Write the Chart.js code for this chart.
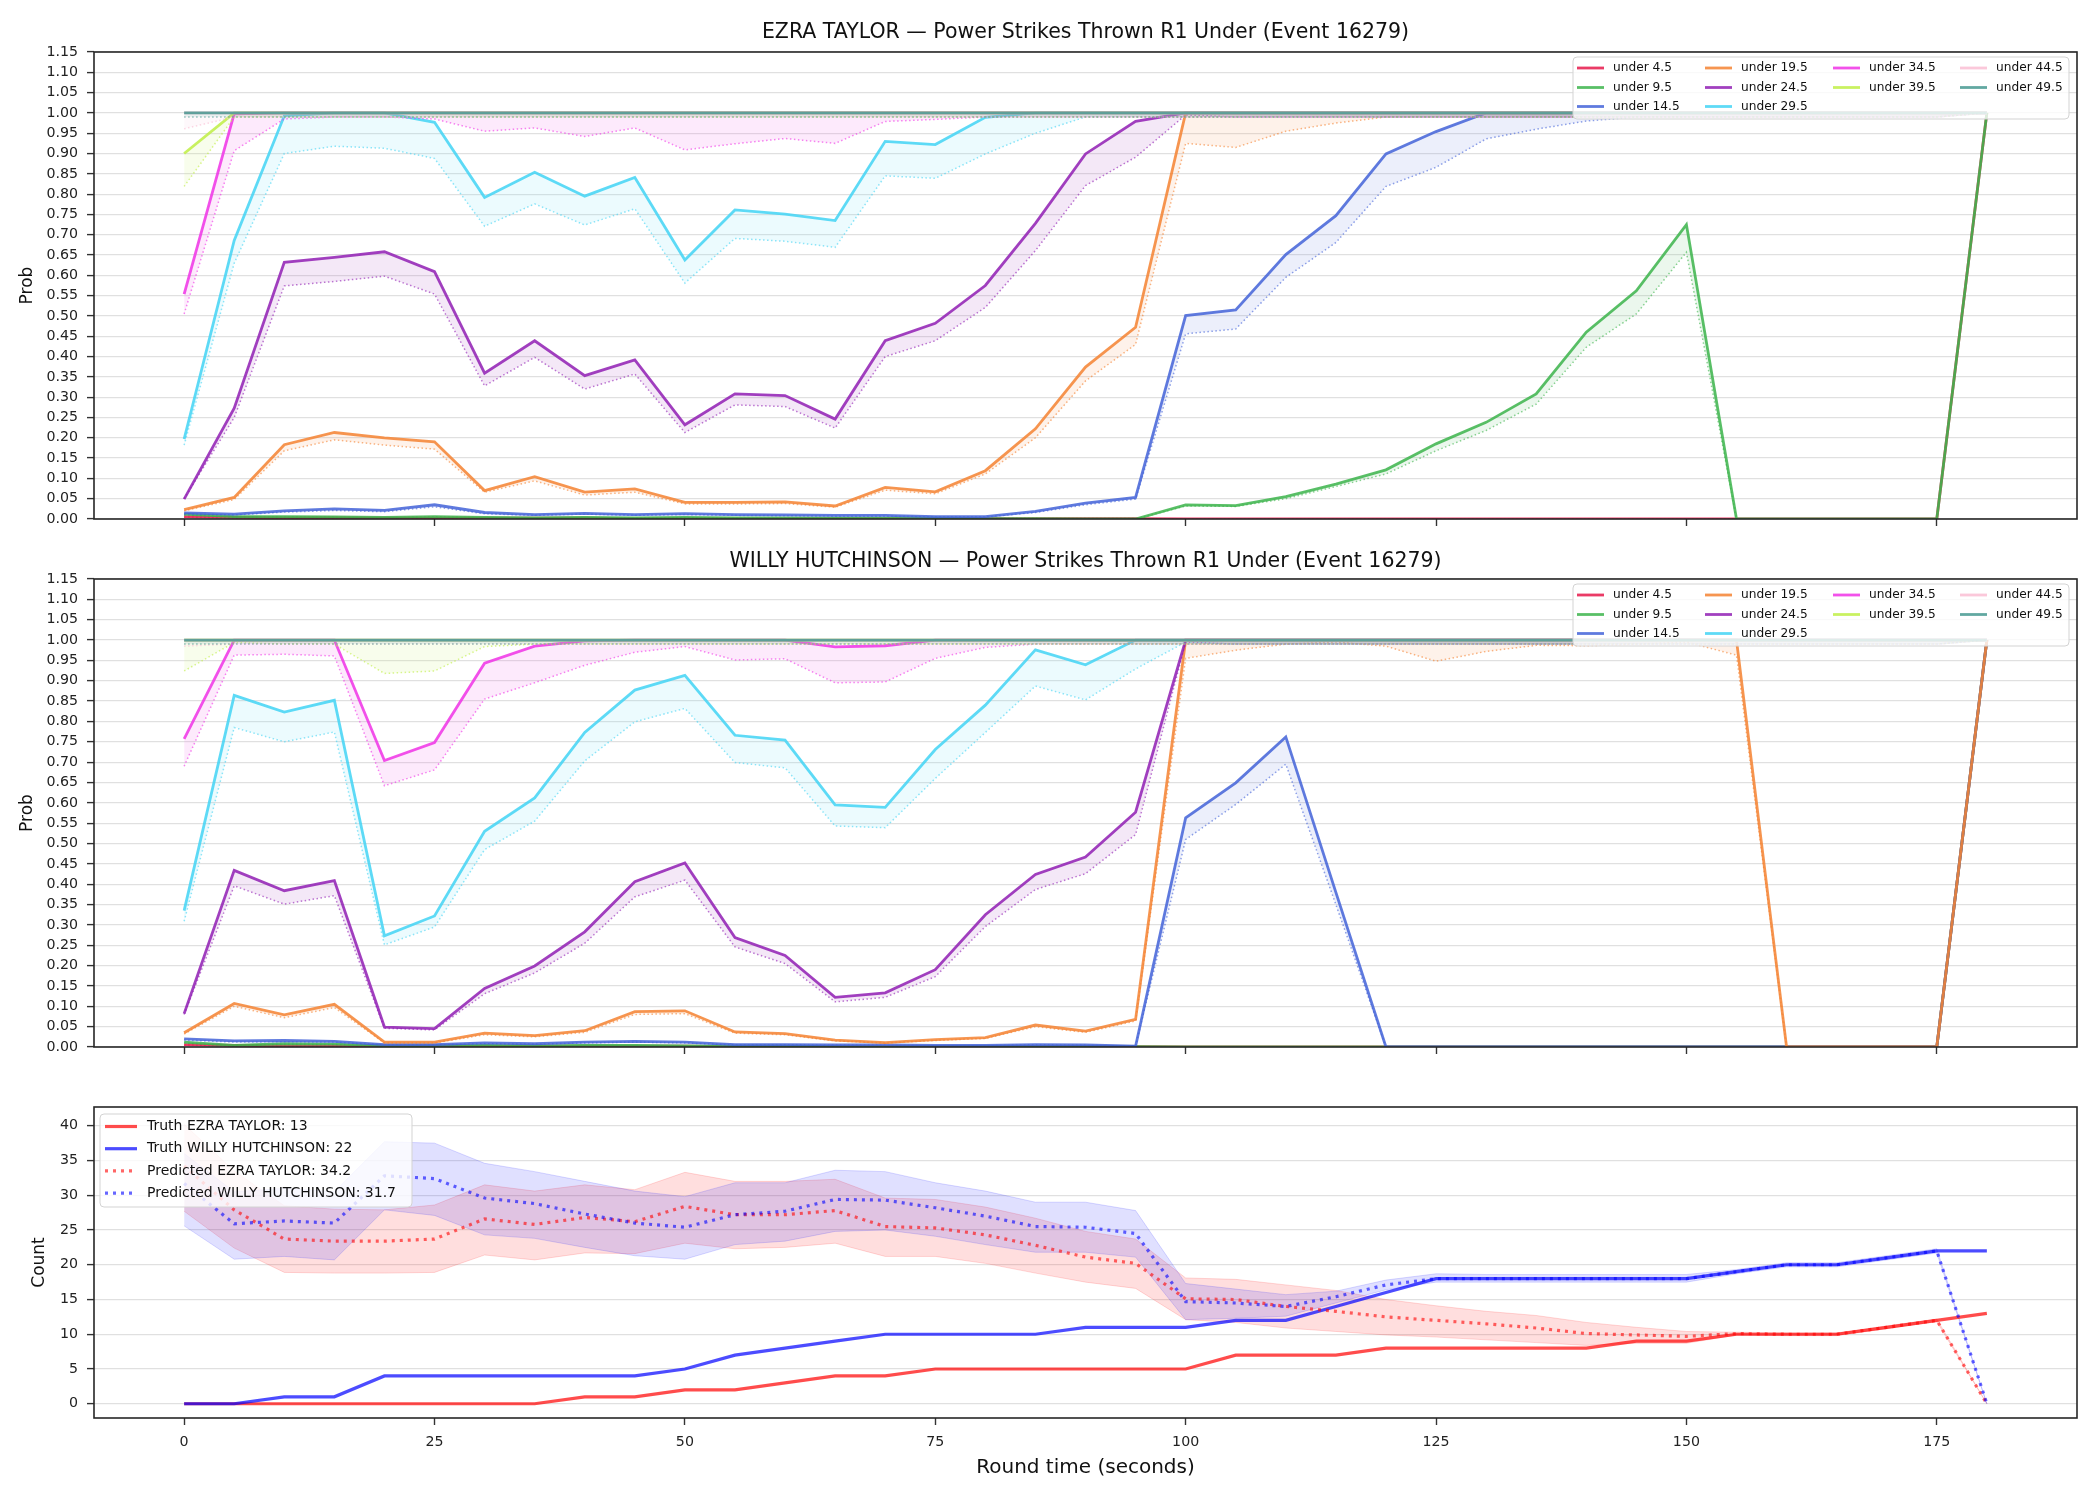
<!DOCTYPE html>
<html>
<head>
<meta charset="utf-8">
<script src="https://cdn.jsdelivr.net/npm/chart.js@4.4.0/dist/chart.umd.min.js"></script>
<style>
html, body { margin: 0; padding: 0; background: #fff; }
#wrap { position: relative; width: 2100px; height: 1500px; }
canvas { position: absolute; left: 0; top: 0; }
</style>
</head>
<body>
<div id="wrap">
  <canvas id="ezra" width="2100" height="1500"></canvas>
  <canvas id="willy" width="2100" height="1500"></canvas>
  <canvas id="count" width="2100" height="1500"></canvas>
</div>
<script>
// ---- data ----
const times = [0,5,10,15,20,25,30,35,40,45,50,55,60,65,70,75,80,85,90,95,100,105,110,115,120,125,130,135,140,145,150,155,160,165,170,175,180];
const xTicks = [0,25,50,75,100,125,150,175];
const probTicks = [0,0.05,0.1,0.15,0.2,0.25,0.3,0.35,0.4,0.45,0.5,0.55,0.6,0.65,0.7,0.75,0.8,0.85,0.9,0.95,1,1.05,1.1,1.15];
const countTicks = [0,5,10,15,20,25,30,35,40];

const thresholdLabels = ['under 4.5','under 9.5','under 14.5','under 19.5','under 24.5','under 29.5','under 34.5','under 39.5','under 44.5','under 49.5'];
const thresholdColors = ['#e6194B','#3cb44b','#4363d8','#f58231','#911eb4','#42d4f4','#f032e6','#bfef45','#fabed4','#469990'];

// EZRA TAYLOR: solid line and dotted line per threshold
const ez4  = [0.006,0.004,0.003,0.003,0.002,0.002,0.002,0.002,0.002,0.001,0.001,0.001,0.001,0.001,0.001,0.001,0.001,0.001,0.001,0.001,0,0,0,0,0,0,0,0,0,0,0,0,0,0,0,0,1];
const ez4d = [0.005,0.003,0.002,0.002,0.002,0.001,0.001,0.001,0.001,0.001,0.001,0.001,0.001,0.001,0.001,0.001,0.001,0.001,0.001,0.001,0,0,0,0,0,0,0,0,0,0,0,0,0,0,0,0,1];
const ez9  = [0.012,0.006,0.006,0.005,0.004,0.006,0.004,0.003,0.004,0.003,0.004,0.003,0.003,0.002,0.002,0.002,0.001,0.001,0,0,0.035,0.033,0.055,0.086,0.121,0.185,0.238,0.308,0.46,0.562,0.725,0,0,0,0,0,1];
const ez9d = [0.01,0.005,0.005,0.004,0.003,0.005,0.003,0.002,0.003,0.002,0.003,0.002,0.002,0.002,0.001,0.001,0.001,0.001,0,0,0.032,0.031,0.05,0.08,0.111,0.168,0.218,0.283,0.423,0.505,0.657,0,0,0,0,0,1];
const ez14  = [0.015,0.012,0.02,0.025,0.021,0.035,0.016,0.011,0.014,0.011,0.013,0.011,0.01,0.009,0.009,0.006,0.006,0.019,0.039,0.053,0.501,0.515,0.651,0.747,0.899,0.954,1,1,1,1,1,1,1,1,1,1,1];
const ez14d = [0.012,0.01,0.017,0.021,0.018,0.03,0.013,0.009,0.012,0.009,0.011,0.009,0.008,0.007,0.007,0.005,0.005,0.016,0.035,0.049,0.456,0.468,0.595,0.681,0.819,0.866,0.936,0.96,0.98,0.99,0.99,0.99,0.99,0.99,0.99,0.99,1];
const ez19  = [0.023,0.053,0.183,0.213,0.2,0.19,0.07,0.104,0.066,0.074,0.041,0.041,0.042,0.032,0.078,0.067,0.119,0.222,0.374,0.472,1,1,1,1,1,1,1,1,1,1,1,1,1,1,1,1,1];
const ez19d = [0.02,0.048,0.168,0.195,0.182,0.172,0.066,0.094,0.059,0.066,0.037,0.037,0.038,0.029,0.071,0.062,0.111,0.2,0.34,0.43,0.925,0.915,0.955,0.975,0.99,0.99,0.99,0.99,0.99,0.99,0.99,0.99,0.99,0.99,0.99,0.99,1];
const ez24  = [0.049,0.273,0.632,0.644,0.658,0.609,0.359,0.439,0.353,0.392,0.232,0.308,0.304,0.246,0.439,0.482,0.575,0.728,0.899,0.979,1,1,1,1,1,1,1,1,1,1,1,1,1,1,1,1,1];
const ez24d = [0.05,0.25,0.574,0.585,0.598,0.554,0.328,0.398,0.32,0.357,0.213,0.281,0.277,0.224,0.4,0.439,0.521,0.661,0.821,0.891,0.995,0.99,0.99,0.99,0.99,0.99,0.99,0.99,0.99,0.99,0.99,0.99,0.99,0.99,0.99,0.99,1];
const ez29  = [0.197,0.686,0.993,1,1,0.977,0.792,0.854,0.795,0.841,0.638,0.761,0.751,0.735,0.93,0.922,0.989,1,1,1,1,1,1,1,1,1,1,1,1,1,1,1,1,1,1,1,1];
const ez29d = [0.182,0.63,0.9,0.918,0.913,0.888,0.721,0.776,0.724,0.764,0.581,0.691,0.684,0.669,0.845,0.839,0.899,0.95,0.99,0.99,0.99,0.99,0.99,0.99,0.99,0.99,0.99,0.99,0.99,0.99,0.99,0.99,0.99,0.99,0.99,0.99,1];
const ez34  = [0.554,0.998,1,1,1,1,1,1,1,1,1,1,1,1,1,1,1,1,1,1,1,1,1,1,1,1,1,1,1,1,1,1,1,1,1,1,1];
const ez34d = [0.505,0.907,0.985,0.99,0.99,0.985,0.955,0.963,0.942,0.963,0.909,0.924,0.937,0.925,0.979,0.984,0.99,0.99,0.99,0.99,0.99,0.99,0.99,0.99,0.99,0.99,0.99,0.99,0.99,0.99,0.99,0.99,0.99,0.99,0.99,0.99,1];
const ez39  = [0.9,1,1,1,1,1,1,1,1,1,1,1,1,1,1,1,1,1,1,1,1,1,1,1,1,1,1,1,1,1,1,1,1,1,1,1,1];
const ez39d = [0.819,0.99,0.99,0.99,0.99,0.99,0.99,0.99,0.99,0.99,0.99,0.99,0.99,0.99,0.99,0.99,0.99,0.99,0.99,0.99,0.99,0.99,0.99,0.99,0.99,0.99,0.99,0.99,0.99,0.99,0.99,0.99,0.99,0.99,0.99,0.99,1];
const ez44  = [1,1,1,1,1,1,1,1,1,1,1,1,1,1,1,1,1,1,1,1,1,1,1,1,1,1,1,1,1,1,1,1,1,1,1,1,1];
const ez44d = [0.961,0.99,0.99,0.99,0.99,0.99,0.99,0.99,0.99,0.99,0.99,0.99,0.99,0.99,0.99,0.99,0.99,0.99,0.99,0.99,0.99,0.99,0.99,0.99,0.99,0.99,0.99,0.99,0.99,0.99,0.99,0.99,0.99,0.99,0.99,0.99,1];
const ez49  = [1,1,1,1,1,1,1,1,1,1,1,1,1,1,1,1,1,1,1,1,1,1,1,1,1,1,1,1,1,1,1,1,1,1,1,1,1];
const ez49d = [0.99,0.99,0.99,0.99,0.99,0.99,0.99,0.99,0.99,0.99,0.99,0.99,0.99,0.99,0.99,0.99,0.99,0.99,0.99,0.99,0.99,0.99,0.99,0.99,0.99,0.99,0.99,0.99,0.99,0.99,0.99,0.99,0.99,0.99,0.99,0.99,1];

// WILLY HUTCHINSON
const wi4  = [0.006,0.004,0.003,0.003,0.002,0.002,0.002,0.002,0.002,0.002,0.002,0.001,0.001,0.001,0.001,0.001,0.001,0.001,0.001,0.001,0,0,0,0,0,0,0,0,0,0,0,0,0,0,0,0,1];
const wi4d = [0.005,0.003,0.002,0.002,0.002,0.001,0.001,0.001,0.001,0.001,0.001,0.001,0.001,0.001,0.001,0.001,0.001,0.001,0.001,0.001,0,0,0,0,0,0,0,0,0,0,0,0,0,0,0,0,1];
const wi9  = [0.012,0.004,0.008,0.007,0.003,0.003,0.004,0.003,0.004,0.004,0.003,0.002,0.002,0.001,0.001,0.001,0.001,0.001,0.001,0.001,0,0,0,0,0,0,0,0,0,0,0,0,0,0,0,0,1];
const wi9d = [0.01,0.003,0.007,0.006,0.002,0.002,0.003,0.002,0.003,0.003,0.002,0.002,0.001,0.001,0.001,0.001,0.001,0.001,0.001,0.001,0,0,0,0,0,0,0,0,0,0,0,0,0,0,0,0,1];
const wi14  = [0.02,0.015,0.016,0.014,0.006,0.006,0.01,0.008,0.012,0.014,0.012,0.006,0.006,0.005,0.005,0.004,0.004,0.006,0.005,0.002,0.563,0.649,0.762,0.38,0,0,0,0,0,0,0,0,0,0,0,0,1];
const wi14d = [0.017,0.012,0.013,0.012,0.005,0.005,0.008,0.007,0.01,0.012,0.01,0.005,0.005,0.004,0.004,0.003,0.003,0.005,0.004,0.002,0.51,0.596,0.695,0.35,0,0,0,0,0,0,0,0,0,0,0,0,1];
const wi19  = [0.035,0.107,0.079,0.105,0.012,0.012,0.034,0.028,0.04,0.087,0.089,0.037,0.033,0.017,0.011,0.018,0.023,0.054,0.039,0.068,1,1,1,1,1,1,1,1,1,1,1,1,0,0,0,0,1];
const wi19d = [0.032,0.1,0.072,0.097,0.01,0.01,0.03,0.025,0.036,0.08,0.082,0.034,0.03,0.015,0.01,0.016,0.021,0.05,0.036,0.064,0.955,0.975,0.99,0.995,0.985,0.948,0.972,0.987,0.986,0.99,0.995,0.963,0,0,0,0,1];
const wi24  = [0.082,0.434,0.384,0.409,0.049,0.045,0.144,0.199,0.283,0.406,0.452,0.269,0.225,0.122,0.133,0.19,0.325,0.424,0.467,0.577,1,1,1,1,1,1,1,1,1,1,1,1,1,1,1,1,1];
const wi24d = [0.08,0.396,0.351,0.372,0.046,0.042,0.131,0.182,0.255,0.369,0.41,0.246,0.205,0.111,0.122,0.173,0.296,0.387,0.426,0.522,0.995,0.99,0.99,0.99,0.99,0.99,0.99,0.99,0.99,0.99,0.99,0.99,0.99,0.99,0.99,0.99,1];
const wi29  = [0.335,0.864,0.823,0.852,0.273,0.322,0.53,0.612,0.773,0.877,0.913,0.766,0.754,0.595,0.589,0.731,0.84,0.976,0.939,1,1,1,1,1,1,1,1,1,1,1,1,1,1,1,1,1,1];
const wi29d = [0.309,0.785,0.75,0.774,0.251,0.295,0.485,0.555,0.703,0.799,0.832,0.699,0.686,0.543,0.539,0.66,0.773,0.887,0.853,0.929,0.995,0.99,0.99,0.99,0.99,0.99,0.99,0.99,0.99,0.99,0.99,0.99,0.99,0.99,0.99,0.99,1];
const wi34  = [0.757,1,1,1,0.704,0.748,0.943,0.985,0.998,1,1,1,1,0.983,0.986,1,1,1,1,1,1,1,1,1,1,1,1,1,1,1,1,1,1,1,1,1,1];
const wi34d = [0.69,0.963,0.965,0.961,0.642,0.681,0.855,0.895,0.938,0.97,0.984,0.951,0.954,0.895,0.897,0.955,0.982,0.99,0.99,0.99,0.99,0.99,0.99,0.99,0.99,0.99,0.99,0.99,0.99,0.99,0.99,0.99,0.99,0.99,0.99,0.99,1];
const wi39  = [1,1,1,1,1,1,1,1,1,1,1,1,1,1,1,1,1,1,1,1,1,1,1,1,1,1,1,1,1,1,1,1,1,1,1,1,1];
const wi39d = [0.924,0.994,0.99,0.99,0.918,0.924,0.984,0.99,0.99,0.99,0.99,0.99,0.99,0.99,0.99,0.99,0.99,0.99,0.99,0.99,0.99,0.99,0.99,0.99,0.99,0.99,0.99,0.99,0.99,0.99,0.99,0.99,0.99,0.99,0.99,0.99,1];
const wi44  = [1,1,1,1,1,1,1,1,1,1,1,1,1,1,1,1,1,1,1,1,1,1,1,1,1,1,1,1,1,1,1,1,1,1,1,1,1];
const wi44d = [0.985,0.99,0.99,0.99,0.99,0.99,0.99,0.99,0.99,0.99,0.99,0.99,0.99,0.99,0.99,0.99,0.99,0.99,0.99,0.99,0.99,0.99,0.99,0.99,0.99,0.99,0.99,0.99,0.99,0.99,0.99,0.99,0.99,0.99,0.99,0.99,1];
const wi49  = [1,1,1,1,1,1,1,1,1,1,1,1,1,1,1,1,1,1,1,1,1,1,1,1,1,1,1,1,1,1,1,1,1,1,1,1,1];
const wi49d = [0.99,0.99,0.99,0.99,0.99,0.99,0.99,0.99,0.99,0.99,0.99,0.99,0.99,0.99,0.99,0.99,0.99,0.99,0.99,0.99,0.99,0.99,0.99,0.99,0.99,0.99,0.99,0.99,0.99,0.99,0.99,0.99,0.99,0.99,0.99,0.99,1];

// counts
const truthEzra = [0,0,0,0,0,0,0,0,1,1,2,2,3,4,4,5,5,5,5,5,5,7,7,7,8,8,8,8,8,9,9,10,10,10,11,12,13];
const truthWilly = [0,0,1,1,4,4,4,4,4,4,5,7,8,9,10,10,10,10,11,11,11,12,12,14,16,18,18,18,18,18,18,19,20,20,21,22,22];
const predEzra = [34.2,27.9,23.7,23.4,23.4,23.7,26.6,25.8,26.8,26.2,28.4,27.2,27.2,27.8,25.5,25.3,24.3,22.8,21.1,20.2,15.1,15.0,14.0,13.3,12.5,12.0,11.5,10.9,10.1,9.9,9.7,10.1,10,10,11,12,0];
const ezraHigh = [40.2,33.5,28.5,28.0,27.9,28.6,31.5,30.6,31.5,30.8,33.3,32.0,32.0,32.3,29.6,29.4,28.3,26.7,24.8,23.7,18.1,17.9,17.1,16.3,15.0,14.1,13.3,12.7,11.7,11.0,10.4,10.3,10.2,10.2,11.2,12.2,0];
const ezraLow = [27.7,22.4,18.9,18.8,18.8,18.9,21.4,20.7,21.7,21.6,23.1,22.3,22.5,23.1,21.2,21.2,20.2,18.8,17.5,16.6,12.1,11.7,10.9,10.4,9.9,9.6,9.2,8.8,8.4,8.7,8.7,9.9,9.8,9.8,10.8,11.8,0];
const predWilly = [31.7,25.9,26.3,26.0,32.8,32.4,29.6,28.8,27.3,26.0,25.4,27.2,27.7,29.4,29.3,28.2,27.0,25.5,25.4,24.5,14.7,14.5,14.0,15.4,17.1,18.0,18.0,18.0,18.0,18.0,18.0,19.0,20.0,20.0,21.0,22.0,0];
const willyHigh = [36.0,30.5,31.0,30.5,37.7,37.5,34.6,33.4,32.0,30.6,29.8,31.8,31.8,33.6,33.4,31.8,30.6,29.0,29.0,27.8,17.3,16.5,15.7,16.2,17.8,18.7,18.6,18.6,18.6,18.6,18.6,19.3,20.3,20.3,21.3,22.3,0];
const willyLow = [25.6,20.8,21.2,20.7,27.9,27.1,24.3,23.8,22.5,21.3,20.8,22.9,23.4,24.8,25.0,24.1,22.9,21.8,21.8,21.1,12.1,12.3,12.6,14.5,16.4,17.5,17.5,17.5,17.5,17.5,17.5,18.7,19.7,19.7,20.7,21.7,0];

// ---- helpers ----
const FONT = '"DejaVu Sans", sans-serif';
Chart.defaults.font.family = FONT;

function rgba(hex, a) {
    const n = parseInt(hex.slice(1), 16);
    return 'rgba(' + (n >> 16) + ',' + ((n >> 8) & 255) + ',' + (n & 255) + ',' + a + ')';
}

function pts(arr) {
    return times.map((t, i) => ({ x: t, y: arr[i] }));
}

function roundRect(ctx, x, y, w, h, r) {
    ctx.beginPath();
    ctx.moveTo(x + r, y);
    ctx.arcTo(x + w, y, x + w, y + h, r);
    ctx.arcTo(x + w, y + h, x, y + h, r);
    ctx.arcTo(x, y + h, x, y, r);
    ctx.arcTo(x, y, x + w, y, r);
    ctx.closePath();
}

function legendBox(ctx, x, y, w, h) {
    roundRect(ctx, x, y, w, h, 4);
    ctx.fillStyle = 'rgba(255,255,255,0.8)';
    ctx.fill();
    ctx.strokeStyle = '#d3d3d3';
    ctx.lineWidth = 1;
    ctx.stroke();
}

function probLegend(boxTop) {
    return function (ctx) {
        legendBox(ctx, 1573, boxTop, 496, 62);
        const colX = [1577, 1705, 1833, 1960];
        const rowY = [11, 30.5, 49.5];
        ctx.font = '12.2px ' + FONT;
        ctx.textBaseline = 'middle';
        ctx.textAlign = 'left';
        thresholdLabels.forEach((lab, k) => {
            const col = k < 3 ? 0 : k < 6 ? 1 : k < 8 ? 2 : 3;
            const row = k < 3 ? k : k < 6 ? k - 3 : k < 8 ? k - 6 : k - 8;
            const y = boxTop + rowY[row];
            ctx.strokeStyle = rgba(thresholdColors[k], 0.85);
            ctx.lineWidth = 2.8;
            ctx.beginPath();
            ctx.moveTo(colX[col], y);
            ctx.lineTo(colX[col] + 27, y);
            ctx.stroke();
            ctx.fillStyle = '#111';
            ctx.fillText(lab, colX[col] + 36, y);
        });
    };
}

function countLegend(ctx) {
    legendBox(ctx, 100, 1114, 312, 93);
    const items = [
        ['Truth EZRA TAYLOR: 13', 'rgba(255,0,0,0.7)', []],
        ['Truth WILLY HUTCHINSON: 22', 'rgba(0,0,255,0.7)', []],
        ['Predicted EZRA TAYLOR: 34.2', 'rgba(255,0,0,0.6)', [3, 5]],
        ['Predicted WILLY HUTCHINSON: 31.7', 'rgba(0,0,255,0.6)', [3, 5]]
    ];
    ctx.font = '14px ' + FONT;
    ctx.textBaseline = 'middle';
    ctx.textAlign = 'left';
    items.forEach((it, i) => {
        const y = 1126.5 + i * 22.2;
        ctx.strokeStyle = it[1];
        ctx.lineWidth = 3.2;
        ctx.setLineDash(it[2]);
        ctx.beginPath();
        ctx.moveTo(105, y);
        ctx.lineTo(137, y);
        ctx.stroke();
        ctx.setLineDash([]);
        ctx.fillStyle = '#111';
        ctx.fillText(it[0], 147, y);
    });
}

function framePlugin(cfg) {
    return {
        id: 'frame',
        afterDraw(chart) {
            const ctx = chart.ctx;
            const a = chart.chartArea;
            ctx.save();
            cfg.legend(ctx);
            ctx.strokeStyle = '#262626';
            ctx.lineWidth = 1.6;
            ctx.strokeRect(a.left, a.top, a.right - a.left, a.bottom - a.top);
            ctx.fillStyle = '#111';
            ctx.textAlign = 'center';
            ctx.textBaseline = 'middle';
            if (cfg.title) {
                ctx.font = '20.5px ' + FONT;
                ctx.fillText(cfg.title, (a.left + a.right) / 2, cfg.titleY);
            }
            if (cfg.xLabel) {
                ctx.font = '20px ' + FONT;
                ctx.fillText(cfg.xLabel, (a.left + a.right) / 2, cfg.xLabelY);
            }
            ctx.save();
            ctx.translate(cfg.yLabelX, (a.top + a.bottom) / 2);
            ctx.rotate(-Math.PI / 2);
            ctx.font = '17px ' + FONT;
            ctx.fillText(cfg.yLabel, 0, 0);
            ctx.restore();
            ctx.restore();
        }
    };
}

function xScale(showLabels, height) {
    return {
        type: 'linear', min: -9, max: 189,
        afterBuildTicks: s => { s.ticks = xTicks.map(v => ({ value: v })); },
        afterFit: s => { s.height = height; },
        ticks: { display: showLabels, font: { size: 14.2 }, color: '#222', padding: 9 },
        grid: { drawOnChartArea: false, tickLength: 7, tickColor: '#333', tickWidth: 1.4 },
        border: { display: false }
    };
}

function probChart(id, top, bottom, title, titleY, legendTop, solid, dotted) {
    const datasets = [];
    solid.forEach((arr, k) => {
        const c = thresholdColors[k];
        datasets.push({ data: pts(arr), borderColor: rgba(c, 0.85), borderWidth: 2.8, pointRadius: 0, fill: false });
        datasets.push({ data: pts(dotted[k]), borderColor: rgba(c, 0.6), borderWidth: 1.5, borderDash: [1.5, 2.5],
            pointRadius: 0, fill: '-1', backgroundColor: rgba(c, 0.1) });
    });
    datasets.forEach((d, i) => { d.order = datasets.length - i; });

    new Chart(document.getElementById(id), {
        type: 'line',
        data: { datasets },
        options: {
            responsive: false, animation: false, devicePixelRatio: 1, events: [],
            layout: { padding: { top: top, bottom: 1500 - bottom - 20, left: 0, right: 23 } },
            plugins: { legend: { display: false }, tooltip: { enabled: false } },
            scales: {
                x: xScale(false, 20),
                y: {
                    min: 0, max: 1.15,
                    afterBuildTicks: s => { s.ticks = probTicks.map(v => ({ value: v })); },
                    afterFit: s => { s.width = 94; },
                    ticks: { callback: v => v.toFixed(2), font: { size: 14.2 }, color: '#222', padding: 9 },
                    grid: { color: 'rgba(0,0,0,0.12)', lineWidth: 1.2, tickLength: 7, tickColor: '#333', tickWidth: 1.4 },
                    border: { display: false }
                }
            }
        },
        plugins: [framePlugin({ title: title, titleY: titleY, yLabel: 'Prob', yLabelX: 28, legend: probLegend(legendTop) })]
    });
}

probChart('ezra', 52, 519, 'EZRA TAYLOR \u2014 Power Strikes Thrown R1 Under (Event 16279)', 33, 57,
    [ez4, ez9, ez14, ez19, ez24, ez29, ez34, ez39, ez44, ez49],
    [ez4d, ez9d, ez14d, ez19d, ez24d, ez29d, ez34d, ez39d, ez44d, ez49d]);

probChart('willy', 579, 1047, 'WILLY HUTCHINSON \u2014 Power Strikes Thrown R1 Under (Event 16279)', 562, 584,
    [wi4, wi9, wi14, wi19, wi24, wi29, wi34, wi39, wi44, wi49],
    [wi4d, wi9d, wi14d, wi19d, wi24d, wi29d, wi34d, wi39d, wi44d, wi49d]);

// ---- count panel ----
const countSets = [
    { data: pts(ezraLow), borderColor: 'rgba(255,0,0,0.15)', borderWidth: 1, pointRadius: 0, fill: false },
    { data: pts(ezraHigh), borderColor: 'rgba(255,0,0,0.15)', borderWidth: 1, pointRadius: 0, fill: '-1', backgroundColor: 'rgba(255,0,0,0.13)' },
    { data: pts(willyLow), borderColor: 'rgba(0,0,255,0.15)', borderWidth: 1, pointRadius: 0, fill: false },
    { data: pts(willyHigh), borderColor: 'rgba(0,0,255,0.15)', borderWidth: 1, pointRadius: 0, fill: '-1', backgroundColor: 'rgba(0,0,255,0.12)' },
    { data: pts(truthEzra), borderColor: 'rgba(255,0,0,0.7)', borderWidth: 3.2, pointRadius: 0, fill: false },
    { data: pts(truthWilly), borderColor: 'rgba(0,0,255,0.7)', borderWidth: 3.2, pointRadius: 0, fill: false },
    { data: pts(predEzra), borderColor: 'rgba(255,0,0,0.6)', borderWidth: 3.2, borderDash: [3, 5], pointRadius: 0, fill: false },
    { data: pts(predWilly), borderColor: 'rgba(0,0,255,0.6)', borderWidth: 3.2, borderDash: [3, 5], pointRadius: 0, fill: false }
];
countSets.forEach((d, i) => { d.order = countSets.length - i; });

new Chart(document.getElementById('count'), {
    type: 'line',
    data: { datasets: countSets },
    options: {
        responsive: false, animation: false, devicePixelRatio: 1, events: [],
        layout: { padding: { top: 1107, bottom: 1500 - 1418 - 40, left: 0, right: 23 } },
        plugins: { legend: { display: false }, tooltip: { enabled: false } },
        scales: {
            x: xScale(true, 40),
            y: {
                min: -2.05, max: 42.7,
                afterBuildTicks: s => { s.ticks = countTicks.map(v => ({ value: v })); },
                afterFit: s => { s.width = 94; },
                ticks: { callback: v => String(v), font: { size: 14.2 }, color: '#222', padding: 9 },
                grid: { color: 'rgba(0,0,0,0.12)', lineWidth: 1.2, tickLength: 7, tickColor: '#333', tickWidth: 1.4 },
                border: { display: false }
            }
        }
    },
    plugins: [framePlugin({ xLabel: 'Round time (seconds)', xLabelY: 1468, yLabel: 'Count', yLabelX: 40, legend: countLegend })]
});
</script>
</body>
</html>
